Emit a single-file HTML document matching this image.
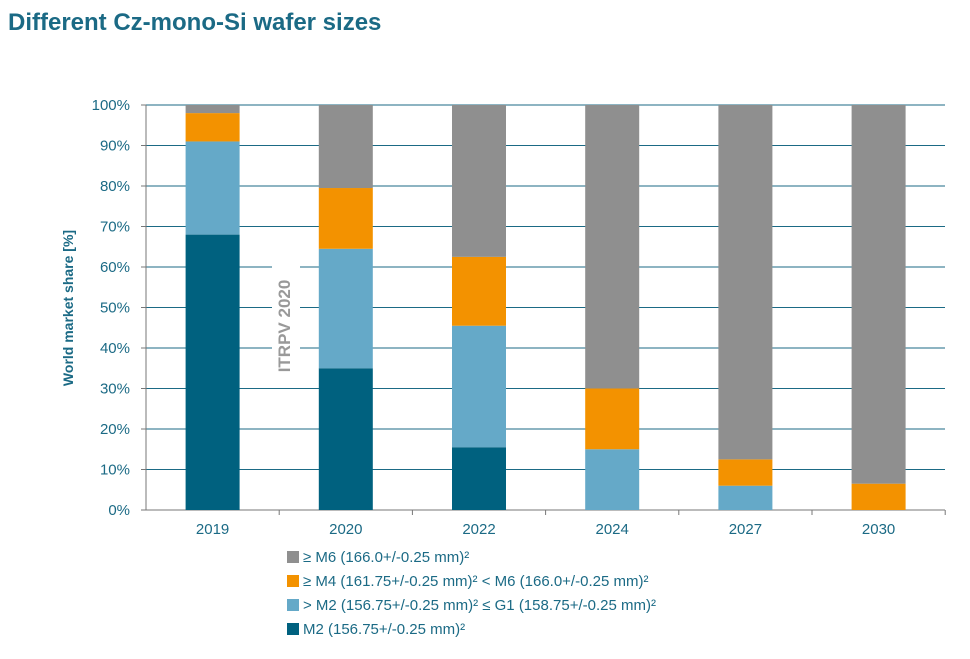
<!DOCTYPE html>
<html><head><meta charset="utf-8"><style>
body{margin:0;background:#fff;width:970px;height:654px;overflow:hidden;font-family:"Liberation Sans",sans-serif}
</style></head><body>
<svg id="c" width="970" height="654" xmlns="http://www.w3.org/2000/svg">
<text x="8" y="30" font-size="24" font-weight="bold" fill="#1b6a85">Different Cz-mono-Si wafer sizes</text>
<g id="grid"></g><g id="bars"></g><g id="axes"></g>
<rect x="272" y="264" width="28" height="124" fill="#fff"/>
<text transform="translate(290,326) rotate(-90)" text-anchor="middle" font-size="17" font-weight="bold" fill="#999">ITRPV 2020</text>
<text transform="translate(73,308) rotate(-90)" text-anchor="middle" font-size="14" font-weight="bold" fill="#1b6a85">World market share [%]</text>
<g id="legend"></g>
</svg>
<script>
const categories=["2019","2020","2022","2024","2027","2030"];
const m2=[68,35,15.5,0,0,0];
const g1=[23,29.5,30,15,6,0];
const m4=[7,15,17,15,6.5,6.5];
const m6=[2,20.5,37.5,70,87.5,93.5];
const yTicks=[0,10,20,30,40,50,60,70,80,90,100];
const seriesNames=["≥ M6 (166.0+/-0.25 mm)²","≥ M4 (161.75+/-0.25 mm)² < M6 (166.0+/-0.25 mm)²","> M2 (156.75+/-0.25 mm)² ≤ G1 (158.75+/-0.25 mm)²","M2 (156.75+/-0.25 mm)²"];
const NS="http://www.w3.org/2000/svg";
const X0=146,X1=945,Y0=510,Y1=105,step=133.2,bw=54;
const y=v=>Y0-(Y0-Y1)*v/100;
const xc=i=>X0+step*(i+0.5);
function mk(t,a,p){const e=document.createElementNS(NS,t);for(const k in a)e.setAttribute(k,a[k]);p.appendChild(e);return e;}
const grid=document.getElementById('grid'),axes=document.getElementById('axes'),bars=document.getElementById('bars'),leg=document.getElementById('legend');
yTicks.forEach(t=>{
  const l=mk('line',{x1:X0,x2:X1,y1:y(t),y2:y(t),stroke:t==0?'#777':'#1b6a85','stroke-width':1},grid);
  
  
  mk('line',{x1:X0-5,x2:X0,y1:y(t),y2:y(t),stroke:'#777'},axes);
  const tx=mk('text',{x:X0-16,y:y(t)+5,'text-anchor':'end','font-size':15,fill:'#1b6a85'},axes);tx.textContent=t+'%';
  
  
});
mk('line',{x1:X0,x2:X0,y1:Y1,y2:Y0,stroke:'#777'},axes);
const series=[[m2,'#00617f','m2'],[g1,'#65a9c8','g1'],[m4,'#f39200','m4'],[m6,'#8f8f8f','m6']];
categories.forEach((c,i)=>{
  let acc=0;
  series.forEach(([arr,col,nm])=>{
    const v=arr[i];if(v>0){
      const r=mk('rect',{x:xc(i)-bw/2,y:y(acc+v),width:bw,height:y(acc)-y(acc+v),fill:col},bars);
      
      
    }
    acc+=v;
  });
  mk('line',{x1:X0+step*(i+1),x2:X0+step*(i+1),y1:Y0,y2:Y0+5,stroke:'#777'},axes);
  const tx=mk('text',{x:xc(i),y:Y0+24,'text-anchor':'middle','font-size':15,fill:'#1b6a85'},axes);tx.textContent=c;
  
  
});
const lc=['#8f8f8f','#f39200','#65a9c8','#00617f'];
seriesNames.forEach((n,i)=>{
  const yy=557+i*24;
  const g=mk('g',{},leg);
  
  
  mk('rect',{x:287,y:yy-6,width:12,height:12,fill:lc[i]},g);
  const t=mk('text',{x:303,y:yy+5,'font-size':15,fill:'#1b6a85'},g);t.textContent=n;
});
</script>
</body></html>
